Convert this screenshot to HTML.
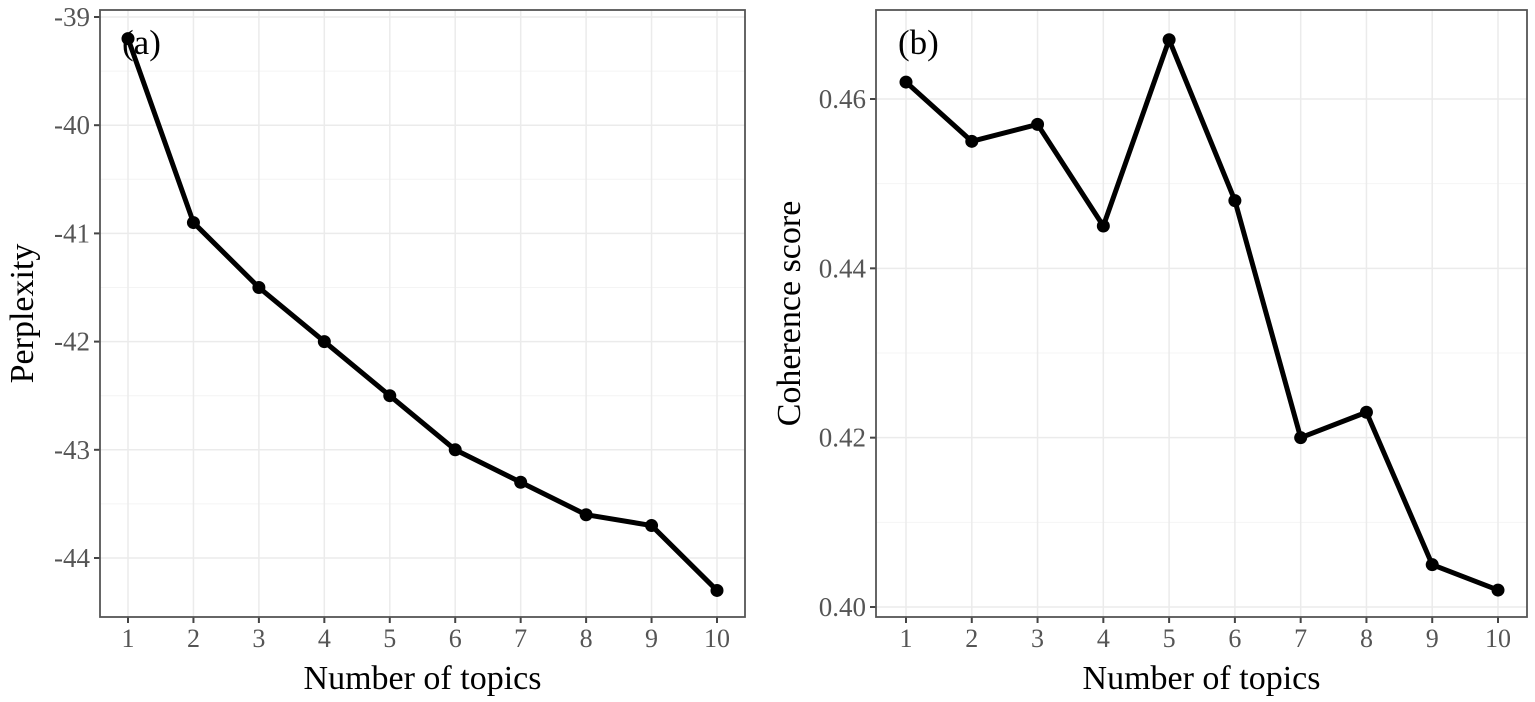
<!DOCTYPE html>
<html><head><meta charset="utf-8"><style>
body{margin:0;background:#fff;}
svg{display:block;font-family:"Liberation Serif",serif;}
</style></head><body>
<svg id="c" width="1535" height="702" xmlns="http://www.w3.org/2000/svg"></svg>
<script>
const topics=[1,2,3,4,5,6,7,8,9,10];
const perplexity=[-39.2,-40.9,-41.5,-42.0,-42.5,-43.0,-43.3,-43.6,-43.7,-44.3];
const coherence=[0.462,0.455,0.457,0.445,0.467,0.448,0.420,0.423,0.405,0.402];
const perpTicks=[-39,-40,-41,-42,-43,-44];
const cohTicks=[0.40,0.42,0.44,0.46];
const cohTickLabels=["0.40","0.42","0.44","0.46"];
const NS="http://www.w3.org/2000/svg";
const svg=document.getElementById('c');
function mk(t,a,p){const e=document.createElementNS(NS,t);for(const k in a)e.setAttribute(k,a[k]);(p||svg).appendChild(e);return e;}
function panel(cfg){
  const g=mk('g',{});
  
  
  const {L,R,T,B}=cfg;
  const xs=v=>cfg.x0+(v-1)*(cfg.x1-cfg.x0)/9;
  const ys=v=>cfg.y0+(v-cfg.v0)*(cfg.y1-cfg.y0)/(cfg.v1-cfg.v0);
  for(let i=0;i<cfg.ticks.length-1;i++){const m=(cfg.ticks[i]+cfg.ticks[i+1])/2;mk('line',{x1:L,x2:R,y1:ys(m),y2:ys(m),stroke:'#f4f4f4','stroke-width':1},g);}
  cfg.ticks.forEach((t,i)=>{
    const y=ys(t);
    const gl=mk('line',{x1:L,x2:R,y1:y,y2:y,stroke:'#ebebeb','stroke-width':1.5},g);
    
    mk('line',{x1:L-6,x2:L,y1:y,y2:y,stroke:'#444','stroke-width':2},g);
    const tx=mk('text',{x:L-10,y:y+9,'text-anchor':'end','font-size':27,fill:'#555'},g);
    tx.textContent=cfg.labels[i];
    
  });
  topics.forEach(t=>{
    const x=xs(t);
    mk('line',{x1:x,x2:x,y1:T,y2:B,stroke:'#ebebeb','stroke-width':1.5},g);
    mk('line',{x1:x,x2:x,y1:B,y2:B+6,stroke:'#444','stroke-width':2},g);
    const tx=mk('text',{x:x,y:B+30,'text-anchor':'middle','font-size':26,fill:'#555'},g);
    tx.textContent=t;
    
  });
  const pts=topics.map((t,i)=>xs(t)+','+ys(cfg.data[i])).join(' ');
  const pl=mk('polyline',{points:pts,fill:'none',stroke:'#000','stroke-width':5,'stroke-linejoin':'round'},g);
  
  topics.forEach((t,i)=>{
    const c=mk('circle',{cx:xs(t),cy:ys(cfg.data[i]),r:6.5,fill:'#000'},g);
    
  });
  mk('rect',{x:L,y:T,width:R-L,height:B-T,fill:'none',stroke:'#555','stroke-width':1.8},g);
  const lab=mk('text',{x:L+22,y:T+44,'font-size':35,fill:'#000'},g);
  lab.textContent=cfg.tag;
  const xt=mk('text',{x:(L+R)/2,y:B+72,'text-anchor':'middle','font-size':34,fill:'#000'},g);
  xt.textContent='Number of topics';
  const yt=mk('text',{x:0,y:0,'text-anchor':'middle','font-size':34,fill:'#000',transform:`translate(${cfg.ytx},${(T+B)/2}) rotate(-90)`},g);
  yt.textContent=cfg.ytitle;
}
panel({name:'perplexity-panel',L:100,R:745,T:10,B:617,x0:128,x1:717,y0:17,y1:558,v0:-39,v1:-44,ticks:perpTicks,labels:perpTicks.map(String),data:perplexity,tag:'(a)',ytitle:'Perplexity',ytx:33});
panel({name:'coherence-panel',L:876,R:1527,T:10,B:617,x0:906,x1:1498,y0:607,y1:99,v0:0.40,v1:0.46,ticks:cohTicks,labels:cohTickLabels,data:coherence,tag:'(b)',ytitle:'Coherence score',ytx:800});
</script>
</body></html>
